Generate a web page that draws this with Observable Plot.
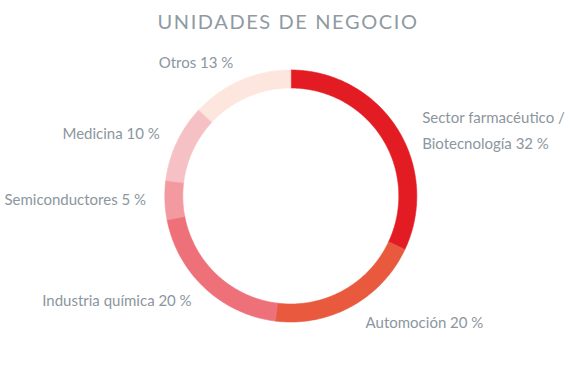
<!DOCTYPE html>
<html><head><meta charset="utf-8">
<script src="https://cdn.jsdelivr.net/npm/d3@7"></script>
<script src="https://cdn.jsdelivr.net/npm/@observablehq/plot@0.6"></script>
<style>
html,body{margin:0;padding:0;background:#fff;}
#title{height:40px;line-height:42px;text-align:center;font-family:Lato,"Open Sans",sans-serif;font-size:20px;letter-spacing:1.6px;color:#8f9aa2;padding-left:6px;}
</style>
</head><body>
<div id="title">UNIDADES DE NEGOCIO</div>
<div id="chart"></div>
<script>
const names = ["Sector farmacéutico / Biotecnología", "Automoción", "Industria química", "Semiconductores", "Medicina", "Otros"];
const values = [32, 20, 20, 5, 10, 13];
const labels = ["Sector farmacéutico /\nBiotecnología 32\u202F%", "Automoción 20\u202F%", "Industria química 20\u202F%", "Semiconductores 5\u202F%", "Medicina 10\u202F%", "Otros 13\u202F%"];
const colors = ["#e31b23", "#e8593d", "#ee717a", "#f29a9f", "#f6c1c4", "#fce6de"];

const W = 570, H = 351, cx = 290.3, cy = 155.5, R = 126;
const inner = 108 / R, labelR = 1.15;

const arcs = d3.pie().sort(null).value(d => d)(values);
const pts = [];
arcs.forEach((a, i) => {
  const n = Math.max(4, Math.ceil((a.endAngle - a.startAngle) / 0.01));
  for (let k = 0; k <= n; k++) {
    const t = a.startAngle + (a.endAngle - a.startAngle) * k / n;
    pts.push({name: names[i], x: Math.sin(t), y: Math.cos(t)});
  }
  for (let k = n; k >= 0; k--) {
    const t = a.startAngle + (a.endAngle - a.startAngle) * k / n;
    pts.push({name: names[i], x: inner * Math.sin(t), y: inner * Math.cos(t)});
  }
});
const lab = arcs.map((a, i) => {
  const m = (a.startAngle + a.endAngle) / 2;
  return {name: names[i], text: labels[i], x: labelR * Math.sin(m), y: labelR * Math.cos(m), right: m < Math.PI};
});

const chart = Plot.plot({
  width: W, height: H,
  margin: 0,
  x: {domain: [-cx / R, (W - cx) / R], range: [0, W], axis: null},
  y: {domain: [-(H - cy) / R, cy / R], range: [H, 0], axis: null},
  color: {domain: names, range: colors},
  style: {fontFamily: "Lato, 'Open Sans', sans-serif", background: "#fff"},
  marks: [
    Plot.line(pts, {x: "x", y: "y", z: "name", fill: "name", stroke: "name", strokeWidth: 0.6, curve: "linear-closed"}),
    Plot.text(lab.filter(d => !d.right), {x: "x", y: "y", text: "text", textAnchor: "end", dx: 0, dy: 0, fill: "#8c969e", fontSize: 15}),
    Plot.text(lab.filter(d => d.right && d.text.includes("\n")), {x: "x", y: "y", text: "text", textAnchor: "start", lineAnchor: "middle", lineHeight: 1.75, dx: 9, dy: 9, fill: "#8c969e", fontSize: 15}),
    Plot.text(lab.filter(d => d.right && !d.text.includes("\n")), {x: "x", y: "y", text: "text", textAnchor: "start", dx: 5, dy: 0, fill: "#8c969e", fontSize: 15})
  ]
});
document.getElementById("chart").appendChild(chart);
</script>
</body></html>
